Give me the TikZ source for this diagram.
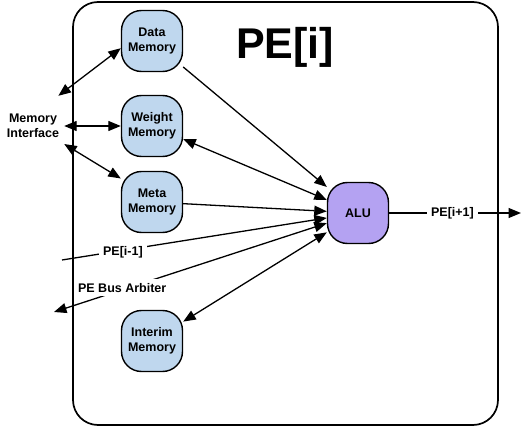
\documentclass[tikz,border=0pt]{standalone}
\usepackage{fontspec}
\setmainfont{Liberation Sans}
\usetikzlibrary{arrows.meta,positioning}
\definecolor{memBlue}{HTML}{BFD7EE}
\definecolor{aluPurple}{HTML}{B4A2F2}
\tikzset{
  % Memory blocks and the ALU: rounded squares, same size.
  pe/box/.style={
    draw=black, line width=1.4pt, rounded corners=20pt,
    minimum width=61pt, minimum height=61pt, inner sep=2pt, align=center,
    font=\bfseries\fontsize{12.5}{15.5}\selectfont
  },
  pe/mem/.style={pe/box, fill=memBlue},
  pe/alu/.style={pe/box, fill=aluPurple},
  % The PE boundary.
  pe/frame/.style={draw=black, line width=1.7pt, rounded corners=25pt},
  % Plain text outside the boxes.
  pe/text/.style={font=\bfseries\fontsize{12.5}{15.5}\selectfont, align=center},
  % Labels sitting on a connector.
  pe/label/.style={pe/text, fill=white, inner sep=4pt},
  pe/title/.style={font=\bfseries\fontsize{43}{45}\selectfont},
  % Arrows. One head for one-way flow, two heads for read/write.
  pe/arrow/.style={-{Triangle[length=12.5pt,width=10pt]}, line width=1.3pt},
  pe/arrowB/.style={{Triangle[length=12.5pt,width=10pt]}-{Triangle[length=12.5pt,width=10pt]},
    line width=1.3pt},
}
\begin{document}
\begin{tikzpicture}[x=1pt,y=-1pt]
  \useasboundingbox (0,0) rectangle (523,428);
  \draw[pe/frame] (73,2) rectangle (498,425);
  \node[pe/title] (title) at (285,47) {PE[i]};

  \node[pe/mem] (data)    at (152,41)  {Data\\Memory};
  \node[pe/mem] (weight)  at (152,126) {Weight\\Memory};
  \node[pe/mem] (meta)    at (152,202) {Meta\\Memory};
  \node[pe/mem] (interim) at (152,341) {Interim\\Memory};
  \node[pe/alu] (alu)     at (358,213) {ALU};

  \node[pe/text, minimum width=62pt, minimum height=60pt] (memif) at (33,126) {Memory\\Interface};
  \coordinate (prev) at (62,260);
  \coordinate (arb)  at (54,312);
  \coordinate (next) at (521,213);

  % memory interface side
  \draw[pe/arrowB] (memif.50) -- (data.193);
  \draw[pe/arrowB] (memif.east) -- (weight.west);
  \draw[pe/arrowB] (memif.-30) -- (meta.143);

  % into / out of the ALU
  \draw[pe/arrow]  (data) -- (alu);
  \draw[pe/arrowB] (weight) -- (alu);
  \draw[pe/arrow]  (meta) -- (alu);
  \draw[pe/arrow]  (prev) -- node[pe/label, pos=0.23, yshift=-2pt] {PE[i-1]} (alu);
  \draw[pe/arrowB] (alu) -- node[pe/label, pos=0.75, yshift=2pt] {PE Bus Arbiter} (arb);
  \draw[pe/arrowB] (alu) -- (interim);
  \draw[pe/arrow]  (alu) -- node[pe/label, pos=0.48] {PE[i+1]} (next);
\end{tikzpicture}
\end{document}
